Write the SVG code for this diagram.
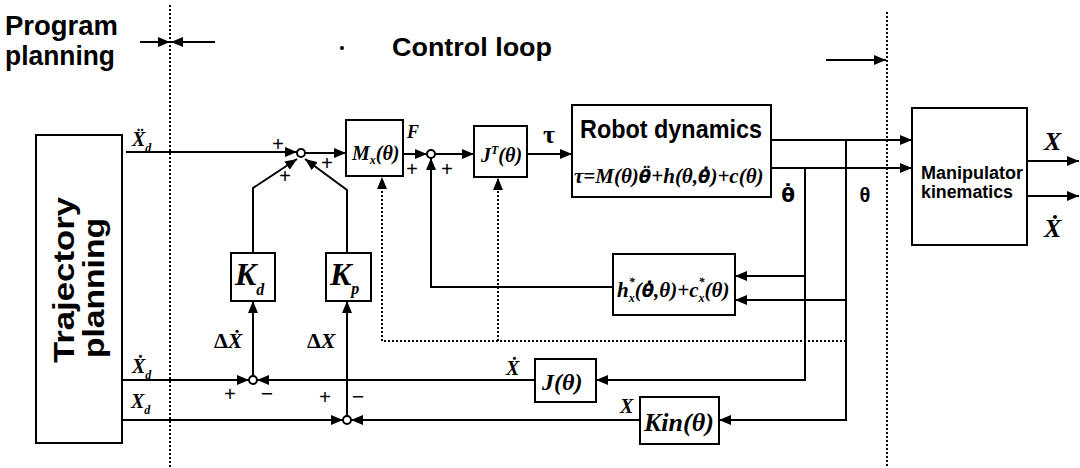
<svg xmlns="http://www.w3.org/2000/svg" width="1080" height="468" viewBox="0 0 1080 468">
<defs>
<marker id="ah" viewBox="0 0 12 10" refX="12" refY="5" markerWidth="12" markerHeight="10" markerUnits="userSpaceOnUse" orient="auto"><path d="M0,0 L12,5 L0,10 z" fill="#000"/></marker>
<style>
.box{fill:#fff;stroke:#000;stroke-width:2}
.ln{fill:none;stroke:#000;stroke-width:2}
.dl{fill:none;stroke:#000;stroke-width:2;stroke-dasharray:2,2}
.jn{fill:#fff;stroke:#000;stroke-width:2}
.hd{font-family:"Liberation Sans",Arial,sans-serif;font-weight:bold;fill:#000}
.m{font-family:"Liberation Serif","Times New Roman","DejaVu Serif",serif;font-weight:bold;font-style:italic;fill:#000}
.r{font-family:"Liberation Serif","Times New Roman","DejaVu Serif",serif;font-weight:bold;fill:#000}
.s{font-family:"Liberation Sans",Arial,"DejaVu Sans",sans-serif;font-weight:bold;fill:#000}
.dvs{font-family:"DejaVu Sans",sans-serif}
</style>
</defs>
<rect width="1080" height="468" fill="#fff"/>

<g id="headers">
<text class="hd" x="5" y="35" font-size="27" textLength="113" lengthAdjust="spacingAndGlyphs">Program</text>
<text class="hd" x="5" y="65" font-size="27" textLength="110" lengthAdjust="spacingAndGlyphs">planning</text>
<text class="hd" x="392" y="56" font-size="25" textLength="160" lengthAdjust="spacingAndGlyphs">Control loop</text>
<circle cx="342" cy="48" r="2" fill="#000"/>
<line class="dl" x1="170" y1="5" x2="170" y2="468"/>
<line class="dl" x1="887" y1="12" x2="887" y2="468"/>
</g>

<g id="connectors">
<path class="ln" d="M140,42 H170" marker-end="url(#ah)"/>
<path class="ln" d="M215,42 H171" marker-end="url(#ah)"/>
<path class="ln" d="M826,60 H886" marker-end="url(#ah)"/>
<path class="ln" d="M126,152 H297" marker-end="url(#ah)"/>
<path class="ln" d="M253,253 V188 L297,159" marker-end="url(#ah)"/>
<path class="ln" d="M347,253 V190 L305,159" marker-end="url(#ah)"/>
<path class="ln" d="M305,153 H346" marker-end="url(#ah)"/>
<path class="ln" d="M403,154 H427" marker-end="url(#ah)"/>
<path class="ln" d="M435,154 H474" marker-end="url(#ah)"/>
<path class="ln" d="M527,154 H572" marker-end="url(#ah)"/>
<path class="ln" d="M771,140 H912" marker-end="url(#ah)"/>
<path class="ln" d="M771,168 H912" marker-end="url(#ah)"/>
<path class="ln" d="M805,168 V380 H596" marker-end="url(#ah)"/>
<path class="ln" d="M846,140 V420 H719" marker-end="url(#ah)"/>
<path class="ln" d="M805,276 H735" marker-end="url(#ah)"/>
<path class="ln" d="M846,300 H735" marker-end="url(#ah)"/>
<path class="ln" d="M613,287 H431 V158" marker-end="url(#ah)"/>
<path class="ln" d="M535,380 H257" marker-end="url(#ah)"/>
<path class="ln" d="M122,380 H249" marker-end="url(#ah)"/>
<path class="ln" d="M253,376 V301" marker-end="url(#ah)"/>
<path class="ln" d="M122,420 H343" marker-end="url(#ah)"/>
<path class="ln" d="M640,420 H351" marker-end="url(#ah)"/>
<path class="ln" d="M347,416 V301" marker-end="url(#ah)"/>
<path class="ln" d="M1027,161 H1079" marker-end="url(#ah)"/>
<path class="ln" d="M1027,196 H1079" marker-end="url(#ah)"/>
<path class="dl" d="M846,341 H382 V177" marker-end="url(#ah)"/>
<path class="dl" d="M498,341 V178" marker-end="url(#ah)"/>
</g>

<g id="junctions">
<circle class="jn" cx="301" cy="153" r="4"/>
<circle class="jn" cx="431" cy="154" r="4"/>
<circle class="jn" cx="253" cy="380" r="4"/>
<circle class="jn" cx="347" cy="420" r="4"/>
<text class="r" x="278" y="151" font-size="21" text-anchor="middle">+</text>
<text class="r" x="285" y="183" font-size="21" text-anchor="middle">+</text>
<text class="r" x="327" y="170" font-size="21" text-anchor="middle">+</text>
<text class="r" x="412" y="176" font-size="21" text-anchor="middle">+</text>
<text class="r" x="447" y="176" font-size="21" text-anchor="middle">+</text>
<text class="r" x="230" y="401" font-size="21" text-anchor="middle">+</text>
<text class="r" x="267" y="401" font-size="22" text-anchor="middle">−</text>
<text class="r" x="325" y="404" font-size="21" text-anchor="middle">+</text>
<text class="r" x="358" y="404" font-size="22" text-anchor="middle">−</text>
</g>

<g id="trajectory">
<rect class="box" x="36" y="135" width="86" height="308"/>
<text class="hd" font-size="29" text-anchor="middle" transform="translate(74,280) rotate(-90)" textLength="166" lengthAdjust="spacingAndGlyphs">Trajectory</text>
<text class="hd" font-size="29" text-anchor="middle" transform="translate(104,288) rotate(-90)" textLength="140" lengthAdjust="spacingAndGlyphs">planning</text>
<text class="m" x="132" y="146" font-size="20">Ẍ<tspan font-size="12" dy="6">d</tspan></text>
<text class="m" x="132" y="373" font-size="20">Ẋ<tspan font-size="12" dy="6">d</tspan></text>
<text class="m" x="131" y="408" font-size="20">X<tspan font-size="12" dy="6">d</tspan></text>
</g>

<g id="Kd">
<rect class="box" x="231" y="253" width="44" height="48"/>
<text class="m" x="235" y="285" font-size="32">K<tspan font-size="16" dy="10">d</tspan></text>
<text class="m" x="214" y="348" font-size="22"><tspan font-style="normal">Δ</tspan>Ẋ</text>
</g>

<g id="Kp">
<rect class="box" x="326" y="253" width="45" height="48"/>
<text class="m" x="330" y="285" font-size="32">K<tspan font-size="16" dy="9">p</tspan></text>
<text class="m" x="307" y="348" font-size="22"><tspan font-style="normal">Δ</tspan>X</text>
</g>

<g id="Mx">
<rect class="box" x="346" y="120" width="57" height="56"/>
<text class="m" x="352" y="160" font-size="20">M<tspan font-size="12" dy="4">x</tspan><tspan dy="-4">(θ)</tspan></text>
<text class="m" x="407" y="138" font-size="18">F</text>
</g>

<g id="JT">
<rect class="box" x="474" y="126" width="53" height="51"/>
<text class="m" x="481" y="162" font-size="20">J<tspan font-size="12" dy="-8">T</tspan><tspan dy="8">(θ)</tspan></text>
<text class="r" x="543" y="143" font-size="26">τ</text>
</g>

<g id="robot">
<rect class="box" x="572" y="105" width="199" height="92"/>
<text class="s" x="580" y="138" font-size="25" textLength="182" lengthAdjust="spacingAndGlyphs">Robot dynamics</text>
<text class="m" x="574" y="183" font-size="21">τ=M(θ)<tspan class="dvs" font-size="18">θ̈</tspan>+h(θ,<tspan class="dvs" font-size="18">θ̇</tspan>)+c(θ)</text>
<text class="s" x="788" y="202" font-size="20" text-anchor="middle"><tspan class="dvs">θ̇</tspan></text>
<text class="s" x="865" y="202" font-size="20" text-anchor="middle">θ</text>
</g>

<g id="hbox">
<rect class="box" x="613" y="254" width="122" height="61"/>
<text class="m" x="617" y="297" font-size="21">h<tspan font-size="12" dy="5">x</tspan><tspan font-size="12" dx="-6" dy="-16">*</tspan><tspan dy="11">(</tspan><tspan class="dvs" font-size="18">θ̇</tspan>,θ)+c<tspan font-size="12" dy="5">x</tspan><tspan font-size="12" dx="-6" dy="-16">*</tspan><tspan dy="11">(θ)</tspan></text>
</g>

<g id="J">
<rect class="box" x="535" y="359" width="61" height="43"/>
<text class="m" x="542" y="390" font-size="24">J(θ)</text>
<text class="m" x="506" y="375" font-size="20">Ẋ</text>
</g>

<g id="Kin">
<rect class="box" x="640" y="397" width="79" height="47"/>
<text class="m" x="644" y="431" font-size="26">Kin(θ)</text>
<text class="m" x="620" y="413" font-size="20">X</text>
</g>

<g id="manip">
<rect class="box" x="912" y="108" width="115" height="137"/>
<text class="s" x="921" y="179" font-size="18" textLength="102" lengthAdjust="spacingAndGlyphs">Manipulator</text>
<text class="s" x="921" y="198" font-size="18" textLength="92" lengthAdjust="spacingAndGlyphs">kinematics</text>
<text class="m" x="1044" y="150" font-size="26">X</text>
<text class="m" x="1044" y="237" font-size="26">Ẋ</text>
</g>
</svg>
